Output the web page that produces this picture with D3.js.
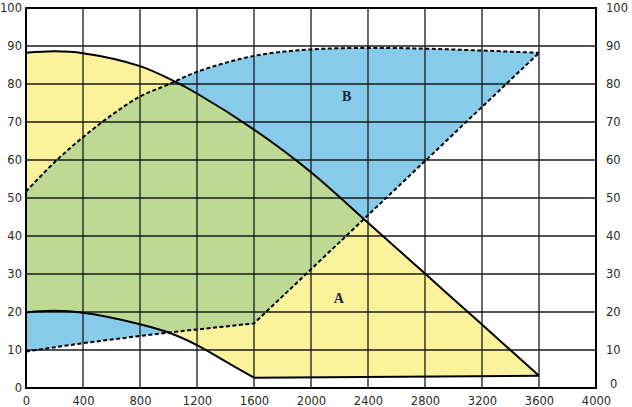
<!DOCTYPE html>
<html>
<head>
<meta charset="utf-8">
<script src="https://cdn.jsdelivr.net/npm/d3@7"></script>
<style>
  html, body { margin: 0; padding: 0; background: #ffffff; }
  svg { display: block; }
</style>
</head>
<body>
<script>
// ---- data ----
const xTicks = [0, 400, 800, 1200, 1600, 2000, 2400, 2800, 3200, 3600, 4000];
const yTicks = [0, 10, 20, 30, 40, 50, 60, 70, 80, 90, 100];

// upper pump curve (solid)
const upperPumpQ = [0, 200, 400, 800, 1046, 1200, 1600, 2000, 2400, 2800, 3200, 3600];
const upperPumpH = [88.2, 88.6, 88.1, 84.7, 80.6, 77.5, 68.0, 56.8, 43.5, 30.1, 16.7, 3.2];

// lower pump curve (solid) + flat minimum line
const lowerPumpQ = [0, 200, 400, 800, 1000, 1200, 1400, 1600];
const lowerPumpH = [19.9, 20.3, 19.8, 16.8, 14.6, 11.3, 7.0, 2.7];
const minLineQ = [1600, 3600];
const minLineH = [2.7, 3.2];

// upper system curve (dashed)
const upperSysQ = [0, 200, 400, 600, 800, 1000, 1200, 1600, 2000, 2400, 2800, 3200, 3600];
const upperSysH = [51.7, 59.4, 66.0, 71.8, 76.7, 79.9, 83.2, 87.4, 89.1, 89.5, 89.3, 88.8, 88.2];

// lower system curve (dashed)
const lowerSysQ = [0, 400, 800, 1000, 1600, 3600];
const lowerSysH = [9.6, 11.8, 13.7, 14.6, 17.0, 88.2];

const regionLabels = ["A", "B"];
const regionLabelQ = [2195, 2250];
const regionLabelH = [23.3, 76.3];

// ---- layout ----
const W = 632, H = 407;
const x = d3.scaleLinear().domain([0, 4000]).range([26, 596]);
const y = d3.scaleLinear().domain([0, 100]).range([388, 8]);

const svg = d3.select("body").append("svg").attr("width", W).attr("height", H);

const pts = (qs, hs) => qs.map((q, i) => [q, hs[i]]);
const upperPump = pts(upperPumpQ, upperPumpH);
const lowerPump = pts(lowerPumpQ, lowerPumpH);
const minLine = pts(minLineQ, minLineH);
const upperSys = pts(upperSysQ, upperSysH);
const lowerSys = pts(lowerSysQ, lowerSysH);

const smooth = d3.line().x(d => x(d[0])).y(d => y(d[1])).curve(d3.curveCatmullRom.alpha(0.5));
const straight = d3.line().x(d => x(d[0])).y(d => y(d[1]));

const join = (...parts) => parts.map((p, i) => i === 0 ? p : "L" + p.slice(1)).join("") + "Z";

const pathA = join(
  smooth(upperPump),
  straight(minLine.slice().reverse()),
  smooth(lowerPump.slice().reverse())
);
const pathB = join(
  smooth(upperSys),
  straight(lowerSys.slice().reverse())
);

const YELLOW = "#fbf39c", BLUE = "#87cbea", GREEN = "#bdd994";

svg.append("defs").append("clipPath").attr("id", "clipA")
  .append("path").attr("d", pathA);

svg.append("path").attr("d", pathA).attr("fill", YELLOW);
svg.append("path").attr("d", pathB).attr("fill", BLUE);
svg.append("path").attr("d", pathB).attr("fill", GREEN).attr("clip-path", "url(#clipA)");

// ---- grid ----
const grid = svg.append("g");
grid.selectAll("line.v").data(xTicks).join("line")
  .attr("x1", d => x(d)).attr("x2", d => x(d))
  .attr("y1", y(0)).attr("y2", y(100))
  .attr("stroke", "#1a1a1a").attr("stroke-width", 1.3);
grid.selectAll("line.h").data(yTicks).join("line")
  .attr("x1", x(0)).attr("x2", x(4000))
  .attr("y1", d => y(d)).attr("y2", d => y(d))
  .attr("stroke", "#1a1a1a").attr("stroke-width", 1.3);

// ---- curves ----
const solidStyle = s => s.attr("fill", "none").attr("stroke", "#000").attr("stroke-width", 2);
svg.append("path").attr("d", smooth(upperPump)).call(solidStyle);
svg.append("path").attr("d", smooth(lowerPump)).call(solidStyle);
svg.append("path").attr("d", straight(minLine)).call(solidStyle);

const dashStyle = s => s.attr("fill", "none").attr("stroke", "#000").attr("stroke-width", 2)
  .attr("stroke-dasharray", "4,2.5");
svg.append("path").attr("d", smooth(upperSys)).call(dashStyle);
svg.append("path").attr("d", straight(lowerSys)).call(dashStyle);

// ---- frame ----
svg.append("rect")
  .attr("x", x(0)).attr("y", y(100))
  .attr("width", x(4000) - x(0)).attr("height", y(0) - y(100))
  .attr("fill", "none").attr("stroke", "#000").attr("stroke-width", 2);

// ---- axes ----
const fmt = d3.format("d");
const styleAxis = g => {
  g.select(".domain").remove();
  g.selectAll(".tick line").remove();
  g.selectAll("text").attr("font-family", "'DejaVu Sans', sans-serif")
    .attr("font-size", 11.5).attr("fill", "#2a2a2a");
};
svg.append("g").attr("transform", `translate(${x(0)},0)`)
  .call(d3.axisLeft(y).tickValues(yTicks).tickFormat(fmt).tickSize(0).tickPadding(4))
  .call(styleAxis);
const rightAxis = svg.append("g").attr("transform", `translate(${x(4000)},0)`)
  .call(d3.axisRight(y).tickValues(yTicks).tickFormat(fmt).tickSize(0).tickPadding(10))
  .call(styleAxis);
// the right "0" sits slightly raised and to the right, as in the reference
rightAxis.selectAll(".tick").filter(d => d === 0).select("text")
  .attr("x", 14).attr("dy", "-0.05em");
svg.append("g").attr("transform", `translate(0,${y(0)})`)
  .call(d3.axisBottom(x).tickValues(xTicks).tickFormat(fmt).tickSize(0).tickPadding(8.5))
  .call(styleAxis);

// ---- region labels ----
svg.selectAll("text.region").data(regionLabels).join("text")
  .attr("class", "region")
  .attr("x", (d, i) => x(regionLabelQ[i]))
  .attr("y", (d, i) => y(regionLabelH[i]))
  .attr("text-anchor", "middle").attr("dominant-baseline", "middle")
  .attr("font-family", "'Liberation Serif', serif").attr("font-weight", "bold")
  .attr("font-size", 14).attr("fill", "#1c2340")
  .text(d => d);
</script>
</body>
</html>
